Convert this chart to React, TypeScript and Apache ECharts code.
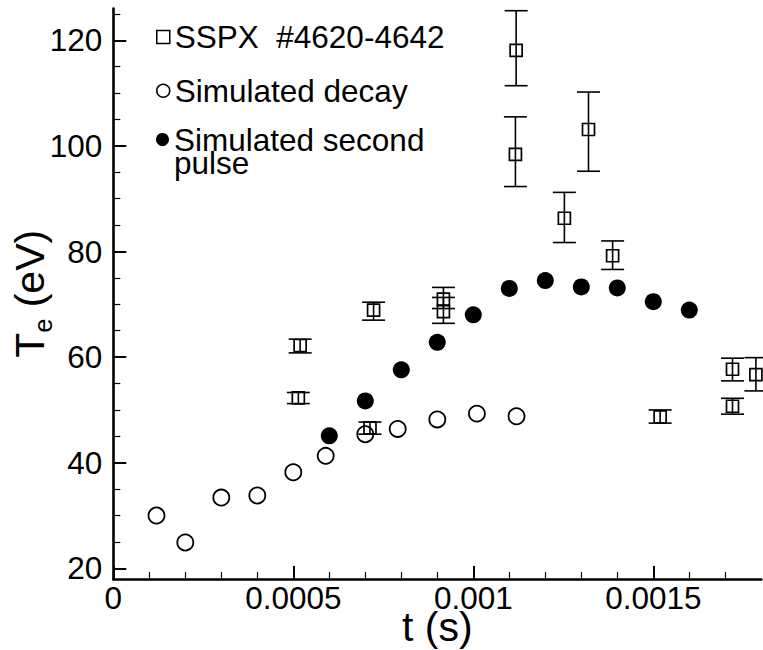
import React, { useEffect, useRef } from "react";
import * as echarts from "echarts";

// ---- data ----
const sspxT = [0.000519, 0.000514, 0.000723, 0.000713, 0.000917, 0.000917, 0.001119, 0.001117, 0.001253, 0.00132, 0.001387, 0.001519, 0.00172, 0.00172, 0.001785];
const sspxTe = [62.2, 52.3, 68.9, 46.6, 71.0, 68.6, 118.1, 98.4, 86.3, 103.1, 79.2, 48.7, 57.7, 50.7, 56.7];
const sspxLow = [60.8, 51.2, 67.0, 45.4, 69.2, 66.4, 111.4, 92.3, 81.7, 95.2, 76.6, 47.5, 55.5, 49.2, 53.6];
const sspxHigh = [63.4, 53.3, 70.4, 47.7, 73.2, 71.3, 125.6, 105.5, 91.2, 110.2, 82.0, 50.0, 59.8, 52.2, 59.9];

const decayT = [0.00012, 0.0002, 0.0003, 0.0004, 0.0005, 0.00059, 0.0007, 0.00079, 0.0009, 0.00101, 0.00112];
const decayTe = [30.0, 24.9, 33.4, 33.8, 38.2, 41.3, 45.4, 46.4, 48.2, 49.3, 48.8];

const pulseT = [0.0006, 0.0007, 0.0008, 0.0009, 0.001, 0.0011, 0.0012, 0.0013, 0.0014, 0.0015, 0.0016];
const pulseTe = [45.1, 51.7, 57.6, 62.8, 68.0, 73.0, 74.5, 73.3, 73.1, 70.5, 68.9];

const xMajor = [0, 0.0005, 0.001, 0.0015];
const xMinor = [0.0001, 0.0002, 0.0003, 0.0004, 0.0006, 0.0007, 0.0008, 0.0009, 0.0011, 0.0012, 0.0013, 0.0014, 0.0016, 0.0017];
const yMajor = [20, 40, 60, 80, 100, 120];
const yMinor = [25, 30, 35, 45, 50, 55, 65, 70, 75, 85, 90, 95, 105, 110, 115, 125];

const NAME_SSPX = "SSPX  #4620-4642";
const NAME_DECAY = "Simulated decay";
const NAME_PULSE = "Simulated second\npulse";

const FONT = "'Liberation Sans', Arial, Helvetica, sans-serif";

export default function App() {
  const ref = useRef<HTMLDivElement>(null);
  useEffect(() => {
    if (!ref.current) return;
    const chart = echarts.init(ref.current, undefined, { renderer: "svg" });
    const black = "#000";
    const baseX = {
      type: "value",
      min: 0,
      max: 0.0018,
      gridIndex: 0,
      position: "bottom",
      offset: 0,
      splitLine: { show: false },
    };
    const baseY = {
      type: "value",
      min: 18,
      max: 126,
      gridIndex: 0,
      position: "left",
      offset: 0,
      splitLine: { show: false },
    };
    const option: any = {
      animation: false,
      backgroundColor: "#fff",
      textStyle: { fontFamily: FONT, color: black },
      grid: {
        left: 113.3,
        right: 1.7,
        top: 8.6,
        bottom: 71.1,
        containLabel: false,
        outerBoundsMode: "none",
      },
      xAxis: [
        {
          ...baseX,
          name: "t (s)",
          nameLocation: "middle",
          nameGap: 33,
          nameMoveOverlap: false,
          nameTextStyle: { fontSize: 41, fontFamily: FONT, color: black, lineHeight: 30 },
          axisLine: { show: true, lineStyle: { color: black, width: 2.6 } },
          axisTick: { show: true, inside: true, length: 13, customValues: xMajor, lineStyle: { color: black, width: 2 } },
          axisLabel: {
            show: true,
            customValues: xMajor,
            margin: 7,
            fontSize: 31.5,
            lineHeight: 24,
            fontFamily: FONT,
            color: black,
            formatter: (v: number) => String(v),
          },
        },
        {
          ...baseX,
          axisLine: { show: false },
          axisTick: { show: true, inside: true, length: 7, customValues: xMinor, lineStyle: { color: black, width: 1.2 } },
          axisLabel: { show: false },
        },
      ],
      yAxis: [
        {
          ...baseY,
          name: "{a|T}{b|e}{a| (eV)}",
          nameLocation: "middle",
          nameRotate: 90,
          nameGap: 58,
          nameMoveOverlap: false,
          nameTextStyle: {
            fontFamily: FONT,
            color: black,
            rich: {
              a: { fontSize: 41, lineHeight: 41, fontFamily: FONT, color: black, verticalAlign: "top" },
              b: { fontSize: 25, fontFamily: FONT, color: black, padding: [21, 0, 0, 0], verticalAlign: "bottom" },
            },
          },
          axisLine: { show: true, lineStyle: { color: black, width: 2.6 } },
          axisTick: { show: true, inside: true, length: 13, customValues: yMajor, lineStyle: { color: black, width: 2 } },
          axisLabel: {
            show: true,
            customValues: yMajor,
            margin: 11,
            fontSize: 31.5,
            fontFamily: FONT,
            color: black,
          },
        },
        {
          ...baseY,
          axisLine: { show: false },
          axisTick: { show: true, inside: true, length: 7, customValues: yMinor, lineStyle: { color: black, width: 1.2 } },
          axisLabel: { show: false },
        },
      ],
      legend: [
        {
          orient: "vertical",
          left: 156,
          top: 21,
          padding: 0,
          itemWidth: 13,
          itemHeight: 13,
          itemGap: 21.8,
          selectedMode: false,
          textStyle: { fontSize: 31.5, fontFamily: FONT, color: black },
          data: [
            { name: NAME_SSPX, icon: "rect", itemStyle: { color: "transparent", borderColor: black, borderWidth: 1.5 } },
            { name: NAME_DECAY, icon: "circle", itemStyle: { color: "transparent", borderColor: black, borderWidth: 1.5 } },
          ],
        },
        {
          orient: "vertical",
          left: 156,
          top: 100.5,
          padding: 0,
          itemWidth: 13,
          itemHeight: 13,
          selectedMode: false,
          formatter: (name: string) => {
            const parts = name.split("\n");
            return "{s| }\n{a|" + parts[0] + "}\n{a|" + parts[1] + "}";
          },
          textStyle: {
            fontSize: 31.5,
            fontFamily: FONT,
            color: black,
            rich: {
              s: { fontSize: 31.5, lineHeight: 23, fontFamily: FONT },
              a: { fontSize: 31.5, lineHeight: 23, fontFamily: FONT, color: black },
            },
          },
          data: [{ name: NAME_PULSE, icon: "circle", itemStyle: { color: black, borderWidth: 0 } }],
        },
      ],
      series: [
        {
          name: NAME_SSPX + " error",
          type: "custom",
          xAxisIndex: 0,
          yAxisIndex: 0,
          data: sspxT.map((t, i) => [t, sspxLow[i], sspxHigh[i]]),
          encode: { x: 0, y: [1, 2] },
          clip: false,
          silent: true,
          renderItem: (params: any, api: any) => {
            const x = api.value(0);
            const lo = api.coord([x, api.value(1)]);
            const hi = api.coord([x, api.value(2)]);
            const hw = 11.5;
            const style = { stroke: black, lineWidth: 1.6, fill: "none" };
            return {
              type: "group",
              children: [
                { type: "line", shape: { x1: hi[0], y1: hi[1], x2: lo[0], y2: lo[1] }, style },
                { type: "line", shape: { x1: hi[0] - hw, y1: hi[1], x2: hi[0] + hw, y2: hi[1] }, style },
                { type: "line", shape: { x1: lo[0] - hw, y1: lo[1], x2: lo[0] + hw, y2: lo[1] }, style },
              ],
            };
          },
        },
        {
          name: NAME_SSPX,
          type: "scatter",
          xAxisIndex: 0,
          yAxisIndex: 0,
          symbol: "rect",
          symbolSize: 12,
          itemStyle: { color: "transparent", borderColor: black, borderWidth: 1.7, opacity: 1 },
          data: sspxT.map((t, i) => [t, sspxTe[i]]),
          z: 3,
        },
        {
          name: NAME_DECAY,
          type: "scatter",
          xAxisIndex: 0,
          yAxisIndex: 0,
          symbol: "circle",
          symbolSize: 16,
          itemStyle: { color: "transparent", borderColor: black, borderWidth: 1.8, opacity: 1 },
          data: decayT.map((t, i) => [t, decayTe[i]]),
          z: 2,
        },
        {
          name: NAME_PULSE,
          type: "scatter",
          xAxisIndex: 0,
          yAxisIndex: 0,
          symbol: "circle",
          symbolSize: 17,
          itemStyle: { color: black, opacity: 1 },
          data: pulseT.map((t, i) => [t, pulseTe[i]]),
          z: 2,
        },
      ],
    };
    chart.setOption(option);
    return () => chart.dispose();
  }, []);
  return (
    <div
      ref={ref}
      style={{ position: "absolute", left: 0, top: 0, width: 763, height: 650, background: "#fff" }}
    />
  );
}
